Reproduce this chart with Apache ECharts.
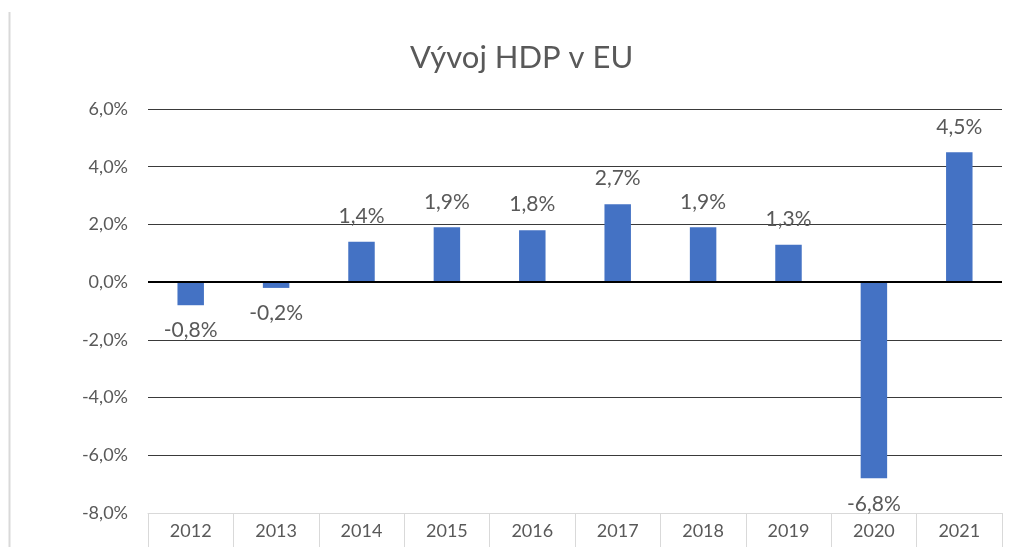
<!DOCTYPE html>
<html>
<head>
<meta charset="utf-8">
<script src="https://cdn.jsdelivr.net/npm/echarts@6/dist/echarts.min.js"></script>
<style>
  html, body { margin: 0; padding: 0; background: #fff; }
</style>
</head>
<body>
<div id="main" style="width:1016px;height:547px"></div>
<script>
// data
var years = ['2012', '2013', '2014', '2015', '2016', '2017', '2018', '2019', '2020', '2021']
var hdpGrowth = [-0.8, -0.2, 1.4, 1.9, 1.8, 2.7, 1.9, 1.3, -6.8, 4.5]
var yTicks = [-8, -6, -4, -2, 0, 2, 4, 6]

var font = 'Lato, "Open Sans", sans-serif'
var fmt = function (v) {
  return v.toFixed(1).replace('.', ',') + '%'
}

var myChart = echarts.init(document.getElementById('main'))
var option = {
  backgroundColor: '#fff',
  textStyle: { fontFamily: font },
  title: {
    text: 'Vývoj HDP v EU',
    left: 405,
    top: 37,
    textStyle: {
      color: '#595959',
      fontSize: 31,
      fontWeight: 'normal',
      fontFamily: font
    }
  },
  graphic: [
    {
      type: 'line',
      shape: { x1: 9.5, y1: 12, x2: 9.5, y2: 547 },
      style: { stroke: '#d9d9d9', lineWidth: 2 },
      silent: true
    }
  ],
  grid: {
    left: 148,
    right: 14,
    top: 109,
    bottom: 34
  },
  xAxis: {
    type: 'category',
    data: years,
    axisLine: {
      onZero: false,
      lineStyle: { color: '#d9d9d9', width: 1 }
    },
    axisTick: {
      show: true,
      alignWithLabel: false,
      length: 36,
      lineStyle: { color: '#d9d9d9', width: 1 }
    },
    axisLabel: {
      color: '#595959',
      fontSize: 18,
      margin: 9,
      fontFamily: font
    }
  },
  yAxis: {
    type: 'value',
    min: yTicks[0],
    max: yTicks[yTicks.length - 1],
    interval: 2,
    axisLine: { show: false },
    axisTick: { show: false },
    splitLine: {
      lineStyle: {
        color: ['#d9d9d9', '#3a3a3a', '#3a3a3a', '#3a3a3a', '#3a3a3a', '#3a3a3a', '#3a3a3a', '#3a3a3a'],
        width: 1
      }
    },
    axisLabel: {
      color: '#595959',
      fontSize: 18,
      margin: 20,
      fontFamily: font,
      formatter: function (v) { return fmt(v) }
    }
  },
  series: [
    {
      type: 'bar',
      barWidth: '31%',
      itemStyle: { color: '#4472c4' },
      data: hdpGrowth.map(function (v) {
        return {
          value: v,
          label: { position: v < 0 ? 'bottom' : 'top' }
        }
      }),
      label: {
        show: true,
        distance: 15,
        color: '#595959',
        fontSize: 21,
        fontFamily: font,
        formatter: function (p) { return fmt(p.value) }
      },
      markLine: {
        silent: true,
        symbol: 'none',
        label: { show: false },
        lineStyle: { color: '#000', width: 2, type: 'solid' },
        data: [{ yAxis: 0 }]
      },
      animation: false
    }
  ],
  animation: false
}
myChart.setOption(option)
</script>
</body>
</html>
